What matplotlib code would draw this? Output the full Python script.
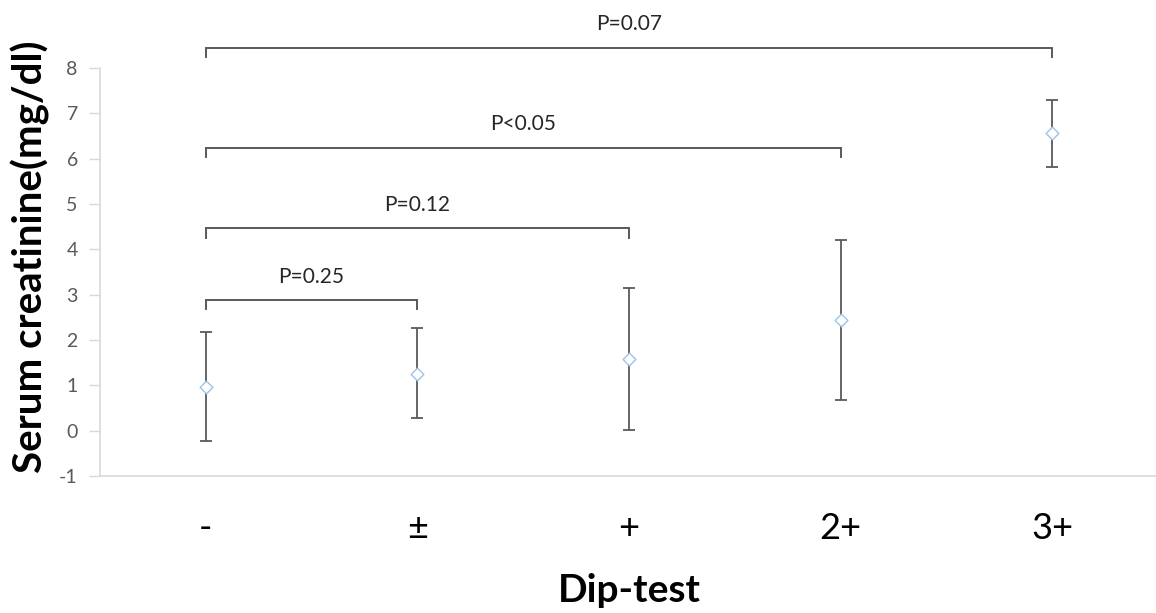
import matplotlib
matplotlib.use("Agg")
import matplotlib.pyplot as plt

plt.rcParams['font.family'] = ['Lato', 'DejaVu Sans']
plt.rcParams['axes.unicode_minus'] = False

categories = ['-', '±', '+', '2+', '3+']
means = [0.96, 1.24, 1.58, 2.44, 6.57]
upper = [2.17, 2.26, 3.14, 4.21, 7.29]
lower = [-0.22, 0.27, 0.01, 0.67, 5.82]

# brackets: (left category index, right category index, height, label)
bracket_left = [0, 0, 0, 0]
bracket_right = [1, 2, 3, 4]
bracket_y = [2.88, 4.46, 6.24, 8.44]
bracket_labels = ['P=0.25', 'P=0.12', 'P<0.05', 'P=0.07']

fig = plt.figure(figsize=(11.56, 6.13), dpi=100)
ax = fig.add_axes([100/1156, 137/613, 1058/1156, 408/613])

x = list(range(len(categories)))
err_lo = [m - l for m, l in zip(means, lower)]
err_hi = [u - m for m, u in zip(means, upper)]
ax.errorbar(x, means, yerr=[err_lo, err_hi], fmt='none', ecolor='#595959',
            elinewidth=1.3, capsize=4, capthick=1.3, zorder=2)
ax.scatter(x, means, marker='D', s=42, facecolors='white',
           edgecolors='#9dc3e6', linewidths=1.0, zorder=3)

ax.set_xlim(-0.5, len(categories) - 0.5)
ax.set_ylim(-1, 8)
ax.set_yticks(range(-1, 9))
ax.set_xticks(x)
ax.set_xticklabels(categories, fontsize=26, color='#000000')
ax.tick_params(axis='x', length=0, pad=26)
ax.tick_params(axis='y', length=8, width=1, color='#d9d9d9', labelsize=14,
               labelcolor='#595959', pad=8)

for s in ['top', 'right']:
    ax.spines[s].set_visible(False)
for s in ['left', 'bottom']:
    ax.spines[s].set_color('#d9d9d9')
    ax.spines[s].set_linewidth(1.2)

ax.set_ylabel('Serum creatinine(mg/dl)', fontsize=29, fontweight='bold')
ax.yaxis.set_label_coords(-0.047, 0.537)
ax.set_xlabel('Dip-test', fontsize=28, fontweight='bold', labelpad=20)

drop = 0.2
for l, r, y, lab in zip(bracket_left, bracket_right, bracket_y, bracket_labels):
    ax.plot([l, l, r, r], [y - drop, y, y, y - drop], color='#595959',
            lw=1.4, clip_on=False, zorder=1, solid_joinstyle='miter')
    ax.text((l + r) / 2, y + 0.52, lab, ha='center', va='center',
            fontsize=15, color='#262626', clip_on=False)

fig.savefig('out.png', dpi=100)
